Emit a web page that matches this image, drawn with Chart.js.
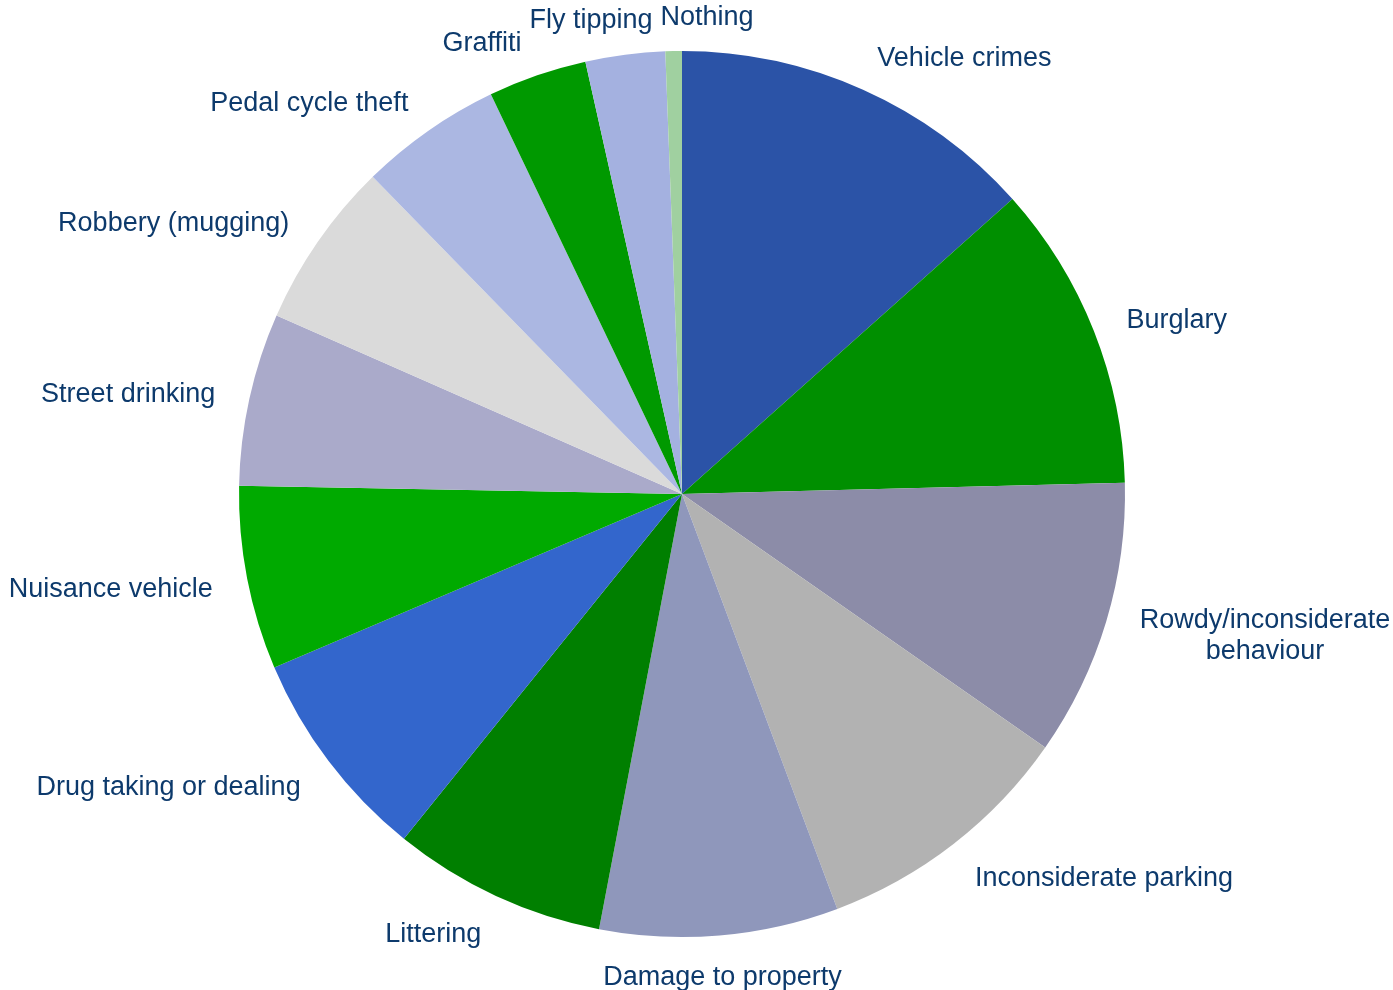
<!DOCTYPE html>
<html lang="en">
<head>
    <meta charset="UTF-8">
    <title>Problems in the area</title>
    <script src="https://cdn.jsdelivr.net/npm/chart.js"></script>
    <style>
        body {
            margin: 0;
            background: #ffffff;
        }
        #wrap {
            width: 1393px;
            height: 990px;
        }
    </style>
</head>
<body>
    <div id="wrap">
        <canvas id="pieChart" width="1393" height="990"></canvas>
    </div>
    <script>
        // categories, clockwise from 12 o'clock
        const categories = [
            'Vehicle crimes', 'Burglary', ['Rowdy/inconsiderate', 'behaviour'], 'Inconsiderate parking',
            'Damage to property', 'Littering', 'Drug taking or dealing', 'Nuisance vehicle',
            'Street drinking', 'Robbery (mugging)', 'Pedal cycle theft', 'Graffiti', 'Fly tipping', 'Nothing'
        ];
        // share of responses (%)
        const shares = [13.4, 11.2, 10.1, 9.6, 8.7, 7.8, 7.8, 6.7, 6.3, 6.1, 5.2, 3.6, 2.9, 0.6];

        const sliceColors = [
            '#2B53A7', '#008F00', '#8C8CA8', '#B2B2B2', '#8F97BB', '#007F00', '#3366CC',
            '#00AA00', '#AAAACA', '#DADADA', '#ABB7E2', '#009900', '#A4B1E0', '#A0D0A0'
        ];

        const labelFont = '27px "Liberation Sans", Arial, sans-serif';
        const labelColor = '#0D3A6C';
        const lineH = 31;

        // outside-end labels, roughly the way the spreadsheet lays them out
        const outsideLabels = {
            id: 'outsideLabels',
            afterDatasetsDraw(chart) {
                const ctx = chart.ctx;
                const arcs = chart.getDatasetMeta(0).data;
                ctx.save();
                ctx.font = labelFont;
                ctx.fillStyle = labelColor;
                ctx.textBaseline = 'middle';

                const boxes = arcs.map((arc, i) => {
                    const lines = [].concat(chart.data.labels[i]);
                    const w = Math.max(...lines.map(l => ctx.measureText(l).width));
                    const h = lines.length * lineH;
                    const mid = (arc.startAngle + arc.endAngle) / 2;
                    const r = arc.outerRadius + 35;
                    const ax = arc.x + Math.cos(mid) * r;
                    const ay = arc.y + Math.sin(mid) * r;
                    const s = Math.cos(mid); // horizontal component
                    let left;
                    if (s > 0.3) left = ax;
                    else if (s < -0.3) left = ax - w;
                    else left = ax - w / 2;
                    const cy = ay + 4 + Math.sin(mid) * 3;
                    return { lines, w, h, left, cy };
                });

                // push apart overlapping neighbours
                for (let pass = 0; pass < 5; pass++) {
                    for (let i = 0; i < boxes.length; i++) {
                        const a = boxes[i], b = boxes[(i + 1) % boxes.length];
                        const vOverlap = Math.abs(a.cy - b.cy) < (a.h + b.h) / 2;
                        if (!vOverlap) continue;
                        const [l, r] = a.left < b.left ? [a, b] : [b, a];
                        const over = l.left + l.w + 8 - r.left;
                        if (over > 0) {
                            l.left -= over / 2;
                            r.left += over / 2;
                        }
                    }
                }

                boxes.forEach(b => {
                    ctx.textAlign = 'center';
                    const top = b.cy - b.h / 2;
                    b.lines.forEach((line, k) => {
                        ctx.fillText(line, b.left + b.w / 2, top + lineH * (k + 0.5));
                    });
                });
                ctx.restore();
            }
        };

        const ctx = document.getElementById('pieChart').getContext('2d');
        new Chart(ctx, {
            type: 'pie',
            data: {
                labels: categories,
                datasets: [{
                    data: shares,
                    backgroundColor: sliceColors,
                    borderWidth: 0
                }]
            },
            options: {
                responsive: false,
                animation: false,
                layout: {
                    padding: { left: 0, right: 29, top: 51, bottom: 53 }
                },
                plugins: {
                    legend: { display: false },
                    tooltip: { enabled: false }
                }
            },
            plugins: [outsideLabels]
        });
    </script>
</body>
</html>
